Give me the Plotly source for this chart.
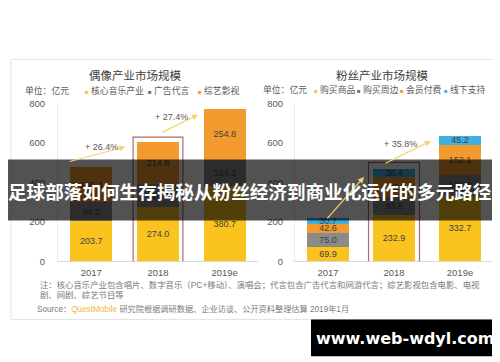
import plotly.graph_objects as go

# ---------------- data ----------------
years = ["2017", "2018", "2019e"]

idol_music = [203.7, 274.0, 380.7]     # 核心音乐产业
idol_ad = [94.0, 115.4, 134.3]         # 广告代言
idol_variety = [180.4, 214.8, 254.8]   # 综艺影视

fan_goods = [69.9, 232.9, 332.7]       # 购买商品
fan_merch = [75.0, 93.8, 104.3]        # 购买周边
fan_member = [42.6, 102.0, 152.1]      # 会员付费
fan_offline = [30.7, 38.4, 45.2]       # 线下支持

idol_growth = ["+ 26.4%", "+ 27.4%"]
fan_growth = ["+ 35.8%"]
y_ticks = [0, 200, 400, 600, 800]

# ---------------- styling ----------------
YELLOW = "#FAC31E"
GRAY = "#8A8A8A"
ORANGE = "#F39A2E"
BLUE = "#41B0DF"
TXT = "#595959"
FONT = "Arial, Liberation Sans, Noto Sans CJK SC, sans-serif"
W, H = 500, 362


def px(x, y):
    return x / W, 1 - y / H


fig = go.Figure()


def add_bar(vals, color, name, xa, ya):
    fig.add_trace(go.Bar(
        x=years, y=vals, name=name, xaxis=xa, yaxis=ya,
        marker=dict(color=color, line=dict(width=0)),
        text=[f"{v:.1f}" for v in vals], textposition="inside",
        insidetextanchor="middle", textangle=0, constraintext="none",
        textfont=dict(size=9, color="#3F3F3F", family=FONT),
        showlegend=False, hoverinfo="skip"))


add_bar(idol_music, YELLOW, "核心音乐产业", "x", "y")
add_bar(idol_ad, GRAY, "广告代言", "x", "y")
add_bar(idol_variety, ORANGE, "综艺影视", "x", "y")
add_bar(fan_goods, YELLOW, "购买商品", "x2", "y2")
add_bar(fan_merch, GRAY, "购买周边", "x2", "y2")
add_bar(fan_member, ORANGE, "会员付费", "x2", "y2")
add_bar(fan_offline, BLUE, "线下支持", "x2", "y2")

ydom = [1 - 255 / H, 1 - 92 / H]
xcommon = dict(type="category", showgrid=False, zeroline=False, showline=True,
               linecolor="#D9D9D9", linewidth=1, ticks="", ticklabelstandoff=2,
               tickfont=dict(size=9.5, color=TXT, family=FONT))
ycommon = dict(range=[0, 800], tickvals=y_ticks, showgrid=False, zeroline=False,
               showline=True, linecolor="#EDEDED", linewidth=1, ticks="",
               tickfont=dict(size=9.5, color=TXT, family=FONT))

fig.update_layout(
    width=W, height=H, autosize=False,
    margin=dict(l=0, r=0, t=0, b=0),
    paper_bgcolor="white", plot_bgcolor="rgba(0,0,0,0)",
    barmode="stack", bargap=0.37,
    uniformtext=dict(minsize=9, mode="show"),
    xaxis=dict(domain=[50 / W, 250 / W], anchor="y", **xcommon),
    yaxis=dict(domain=ydom, anchor="x", ticklabelstandoff=10, **ycommon),
    xaxis2=dict(domain=[287 / W, 485 / W], anchor="y2", **xcommon),
    yaxis2=dict(domain=ydom, anchor="x2", ticklabelstandoff=9, **ycommon),
)

shapes = []
# card border
x0, y0 = px(3, 47)
x1, y1 = px(497, 315)
shapes.append(dict(type="rect", xref="paper", yref="paper", x0=x0, y0=y1, x1=x1, y1=y0,
                   line=dict(color="#E3E3E3", width=1), fillcolor="rgba(0,0,0,0)", layer="below"))
# highlight boxes around 2018
shapes.append(dict(type="rect", xref="x", yref="y", x0=0.627, x1=1.373, y0=-10, y1=628,
                   line=dict(color="#B0676D", width=1.2), layer="above"))
shapes.append(dict(type="rect", xref="x2", yref="y2", x0=0.614, x1=1.386, y0=-10, y1=500,
                   line=dict(color="#B0676D", width=1.2), layer="above"))
# dark overlay band
bx0, by0 = px(0, 150)
bx1, by1 = px(500, 213)
shapes.append(dict(type="rect", xref="paper", yref="paper", x0=bx0, x1=bx1, y0=by1, y1=by0,
                   line=dict(width=0), fillcolor="rgba(0,0,0,0.68)", layer="above"))
# watermark box
wx0, wy0 = px(303, 315)
wx1, wy1 = px(491, 353)
shapes.append(dict(type="rect", xref="paper", yref="paper", x0=wx0, x1=wx1, y0=wy1, y1=wy0,
                   line=dict(width=0), fillcolor="black", layer="above"))
fig.update_layout(shapes=shapes)

anns = []


def ann(text, x, y, size=9, color=TXT, xanchor="center", family=FONT, weight=None, align="center"):
    ax_, ay_ = px(x, y)
    f = dict(size=size, color=color, family=family)
    if weight:
        f["weight"] = weight
    anns.append(dict(text=text, x=ax_, y=ay_, xref="paper", yref="paper",
                     xanchor=xanchor, yanchor="middle", showarrow=False, font=f,
                     align=align))


def arrow(xref, yref, x, y, ax, ay):
    anns.append(dict(text="", x=x, y=y, xref=xref, yref=yref, ax=ax, ay=ay,
                     showarrow=True, arrowhead=2, arrowsize=1, arrowwidth=1.2,
                     arrowcolor="#F1D56C", standoff=0))


# titles
ann("偶像产业市场规模", 127, 63, size=11.5, color="#404040")
ann("粉丝产业市场规模", 374, 63, size=11.5, color="#404040")
# unit labels
ann("单位：亿元", 15, 79, size=8.8, xanchor="left")
ann("单位：亿元", 253, 78, size=8.8, xanchor="left")


def leg(label, color, x, y):
    ann(f'<span style="color:{color};font-size:6px">■</span> {label}', x, y,
        size=8.8, xanchor="left")


leg("核心音乐产业", YELLOW, 75, 79)
leg("广告代言", "#6F6F6F", 138, 79)
leg("综艺影视", ORANGE, 188, 79)
leg("购买商品", YELLOW, 304, 78)
leg("购买周边", "#6F6F6F", 347, 78)
leg("会员付费", ORANGE, 390, 78)
leg("线下支持", BLUE, 434, 78)

# growth arrows and labels
arrow("x", "y", 0.51, 579, -57, 15)
arrow("x", "y", 1.60, 741, -37, 18)
arrow("x2", "y2", 1.56, 609, -47, 23)
arrow("x2", "y2", 0.545, 427, -38, 43)
ann(idol_growth[0], 93, 137, size=9)
ann(idol_growth[1], 163, 106, size=9)
ann(fan_growth[0], 392, 134, size=9)

# notes
ann("注：核心音乐产业包含唱片、数字音乐（PC+移动）、演唱会；代言包含广告代言和网游代言；综艺影视包含电影、电视",
    30, 279, size=8.4, color="#7A7A7A", xanchor="left", align="left")
ann("剧、网剧、综艺节目等", 30, 290, size=8.4, color="#7A7A7A", xanchor="left", align="left")
ann('Source：<span style="color:#F0B53C">QuestMobile</span> 研究院根据调研数据、企业访谈、公开资料整理估算 2019年1月',
    27, 304, size=8.2, color="#7A7A7A", xanchor="left", align="left")

# overlay headline
ann("足球部落如何生存揭秘从粉丝经济到商业化运作的多元路径", 241, 182, size=18.6,
    color="white", xanchor="center", align="center",
    family="Noto Sans CJK SC, sans-serif", weight=700)
# watermark
ann("www.web-wdyl.com", 397, 335, size=16, color="white",
    family="DejaVu Sans, sans-serif", weight=700)

fig.update_layout(annotations=anns)

fig.write_html("out.html")
